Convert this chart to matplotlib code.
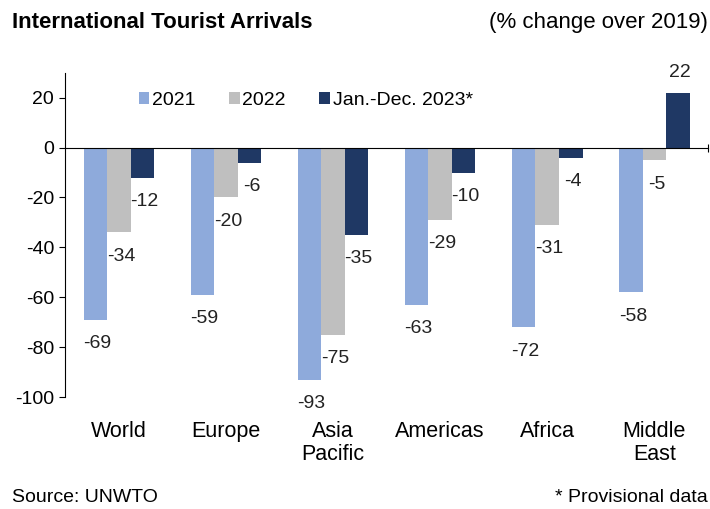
import numpy as np
import matplotlib
matplotlib.use("Agg")
import matplotlib.pyplot as plt
import matplotlib.transforms as mtransforms

plt.rcParams["font.family"] = ["Liberation Sans", "DejaVu Sans"]
plt.rcParams["axes.unicode_minus"] = False

regions = ["World", "Europe", "Asia\nPacific", "Americas", "Africa", "Middle\nEast"]
series_names = ["2021", "2022", "Jan.-Dec. 2023*"]
vals_2021 = [-69, -59, -93, -63, -72, -58]
vals_2022 = [-34, -20, -75, -29, -31, -5]
vals_2023 = [-12, -6, -35, -10, -4, 22]
colors = ["#8eaadb", "#bfbfbf", "#1f3864"]

fig = plt.figure(figsize=(7.1, 5.09), dpi=100)
ax = fig.add_axes([0.092, 0.22, 0.905, 0.637])

x = np.arange(len(regions))
w = 0.22
for i, (vals, name, col) in enumerate(zip([vals_2021, vals_2022, vals_2023], series_names, colors)):
    pos = x + (i - 1) * w
    ax.bar(pos, vals, width=w, color=col, label=name)
    for px, v in zip(pos, vals):
        off = 20 if v > 0 else -24
        ax.annotate(f"{v}", (px, v), xytext=(2, off), textcoords="offset pixels",
                    ha="center", va="center", fontsize=14, color="#222222")

ax.set_xlim(-0.5, 5.5)
ax.set_ylim(-100, 30)
ax.set_yticks(range(-100, 21, 20))
ax.tick_params(axis="y", labelsize=14, length=4, direction="out", pad=4)

for s in ["top", "right"]:
    ax.spines[s].set_visible(False)
ax.spines["left"].set_bounds(-100, 30)
ax.spines["bottom"].set_position(("data", 0))
ax.set_xticks([5.5])
ax.set_xticklabels([""])
ax.tick_params(axis="x", direction="inout", length=6)

# category names at the bottom of the plot
trans = mtransforms.blended_transform_factory(ax.transData, ax.transAxes)
for xi, name in zip(x, regions):
    ax.text(xi, -0.075, name, transform=trans, ha="center", va="top",
            fontsize=15.5, linespacing=1.1)

ax.legend(loc="upper left", bbox_to_anchor=(0.087, 0.995), ncol=3, frameon=False,
          fontsize=14, handlelength=0.55, handleheight=0.55, handletextpad=0.15,
          columnspacing=1.7)

fig.text(0.017, 0.955, "International Tourist Arrivals", fontsize=16,
         fontweight="bold", ha="left", va="center")
fig.text(0.997, 0.955, "(% change over 2019)", fontsize=16, ha="right", va="center")
fig.text(0.017, 0.023, "Source: UNWTO", fontsize=14, ha="left", va="center")
fig.text(0.997, 0.023, "* Provisional data", fontsize=14, ha="right", va="center")

fig.savefig("out.png", dpi=100)
